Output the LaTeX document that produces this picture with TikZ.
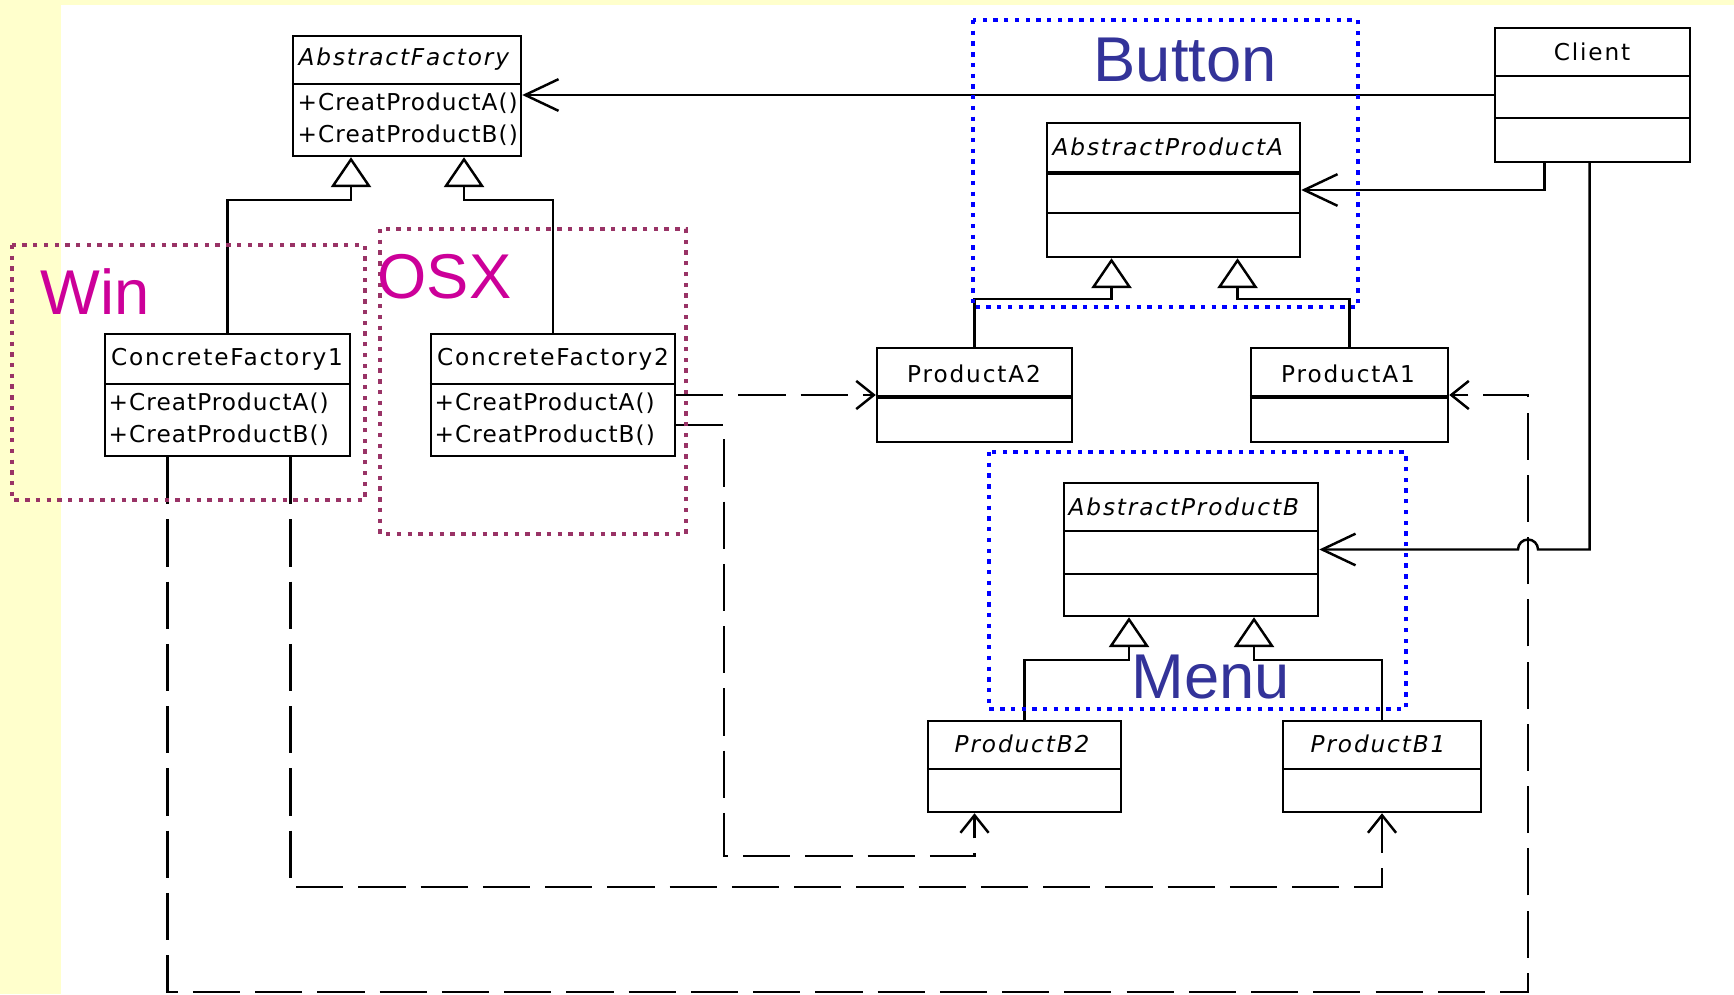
\documentclass[tikz,border=0pt]{standalone}
\usepackage{fontspec}
\setmainfont{DejaVu Sans}
\newfontfamily\umlfont{DejaVu Sans}[LetterSpace=8]
\newfontfamily\umlopfont{DejaVu Sans}[LetterSpace=4.5]
\newfontfamily\labelfont{Liberation Sans}
\usetikzlibrary{arrows.meta,calc,fit}

\definecolor{slidebg}{HTML}{FFFFCC}
\definecolor{groupmaroon}{HTML}{993366}
\definecolor{groupblue}{HTML}{0000FF}
\definecolor{labelmagenta}{HTML}{CC0099}
\definecolor{labelnavy}{HTML}{333399}

\tikzset{
  cls/.style={draw=black, line width=0.7pt, inner sep=0pt, fill=white},
  divider/.style={line width=0.7pt},
  thickdivider/.style={line width=1.4pt},
  umltext/.style={inner sep=0pt, font=\umlfont\fontsize{6.6}{8}\selectfont},
  umlitalic/.style={inner sep=0pt, font=\umlfont\fontsize{6.6}{8}\selectfont\itshape},
  umlop/.style={inner sep=0pt, anchor=west, font=\umlopfont\fontsize{6.6}{8}\selectfont},
  inherit/.style={line width=0.7pt, -{Triangle[open, length=8.5pt, width=11.4pt]}},
  assoc/.style={line width=0.7pt, -{Straight Barb[length=9.5pt, width=9pt]}},
  depend/.style={line width=0.7pt, dash pattern=on 13.4pt off 4.3pt,
                 -{Straight Barb[length=5pt, width=8pt]}},
  groupwin/.style={draw=groupmaroon, line width=1.25pt, dash pattern=on 1.25pt off 1.8pt},
  groupui/.style={draw=groupblue, line width=1.25pt, dash pattern=on 1.25pt off 1.8pt},
  grouplabel/.style={inner sep=0pt, anchor=base west, font=\labelfont\fontsize{18}{20}\selectfont},
}

\begin{document}
\begin{tikzpicture}[x=0.01cm, y=-0.01cm]
  % page background
  \useasboundingbox (0,0) rectangle (1734,994);
  \fill[slidebg] (0,0) rectangle (1734,994);
  \fill[white] (61,5) rectangle (1734,994);

  % ---------- classes ----------
  % AbstractFactory
  \node[cls, fit={(293,36) (521,156)}] (af) {};
  \draw[divider] (af.west |- 0,84) -- (af.east |- 0,84);
  \node[umlitalic, anchor=west] (afname) at (298,59) {AbstractFactory};
  \node[umlop] (afm1) at (297,103) {+CreatProductA()};
  \node[umlop] (afm2) at (297,135) {+CreatProductB()};

  % ConcreteFactory1
  \node[cls, fit={(105,334) (350,456)}] (cf1) {};
  \draw[divider] (cf1.west |- 0,384) -- (cf1.east |- 0,384);
  \node[umltext] (cf1name) at (227,359) {ConcreteFactory1};
  \node[umlop] (cf1m1) at (108,403) {+CreatProductA()};
  \node[umlop] (cf1m2) at (108,435) {+CreatProductB()};

  % ConcreteFactory2
  \node[cls, fit={(431,334) (675,456)}] (cf2) {};
  \draw[divider] (cf2.west |- 0,384) -- (cf2.east |- 0,384);
  \node[umltext] (cf2name) at (553,359) {ConcreteFactory2};
  \node[umlop] (cf2m1) at (434,403) {+CreatProductA()};
  \node[umlop] (cf2m2) at (434,435) {+CreatProductB()};

  % Client
  \node[cls, fit={(1495,28) (1690,162)}] (client) {};
  \draw[divider] (client.west |- 0,76) -- (client.east |- 0,76);
  \draw[divider] (client.west |- 0,118) -- (client.east |- 0,118);
  \node[umltext] (clientname) at (1592,52) {Client};

  % AbstractProductA
  \node[cls, fit={(1047,123) (1300,257)}] (apa) {};
  \draw[thickdivider] (apa.west |- 0,173) -- (apa.east |- 0,173);
  \draw[divider] (apa.west |- 0,213) -- (apa.east |- 0,213);
  \node[umlitalic, anchor=west] (apaname) at (1052,147) {AbstractProductA};

  % ProductA2 / ProductA1
  \node[cls, fit={(877,348) (1072,442)}] (pa2) {};
  \draw[thickdivider] (pa2.west |- 0,397) -- (pa2.east |- 0,397);
  \node[umltext] (pa2name) at (974,374) {ProductA2};
  \node[cls, fit={(1251,348) (1448,442)}] (pa1) {};
  \draw[thickdivider] (pa1.west |- 0,397) -- (pa1.east |- 0,397);
  \node[umltext] (pa1name) at (1348,374) {ProductA1};

  % AbstractProductB
  \node[cls, fit={(1064,483) (1318,616)}] (apb) {};
  \draw[divider] (apb.west |- 0,531) -- (apb.east |- 0,531);
  \draw[divider] (apb.west |- 0,574) -- (apb.east |- 0,574);
  \node[umlitalic, anchor=west] (apbname) at (1068,507) {AbstractProductB};

  % ProductB2 / ProductB1
  \node[cls, fit={(928,721) (1121,812)}] (pb2) {};
  \draw[divider] (pb2.west |- 0,769) -- (pb2.east |- 0,769);
  \node[umlitalic] (pb2name) at (1022,744) {ProductB2};
  \node[cls, fit={(1283,721) (1481,812)}] (pb1) {};
  \draw[divider] (pb1.west |- 0,769) -- (pb1.east |- 0,769);
  \node[umlitalic] (pb1name) at (1378,744) {ProductB1};

  % ---------- generalisations ----------
  \draw[inherit] (cf1.north) |- ($(af.south)+(-56,43)$) -- ($(af.south)+(-56,0)$);
  \draw[inherit] (cf2.north) |- ($(af.south)+(57,43)$) -- ($(af.south)+(57,0)$);
  \draw[inherit] (pa2.north) |- ($(apa.south)+(-62,41)$) -- ($(apa.south)+(-62,0)$);
  \draw[inherit] (pa1.north) |- ($(apa.south)+(64,41)$) -- ($(apa.south)+(64,0)$);
  \draw[inherit] (pb2.north) |- ($(apb.south)+(-62,43)$) -- ($(apb.south)+(-62,0)$);
  \draw[inherit] (pb1.north) |- ($(apb.south)+(63,43)$) -- ($(apb.south)+(63,0)$);

  % ---------- dependencies of the concrete factories ----------
  \coordinate (loopcorner) at (1528,992);
  \coordinate (bturn) at (724,856);
  \draw[depend] (cf2.east) -- (pa2.west);
  \draw[depend] ($(cf2.east)+(0,30)$) -| (bturn) -| ($(pb2.south)+(-50,0)$);
  \draw[depend] ($(cf1.south)+(63,0)$) |- ($(pb1.south)+(0,74)$) -- (pb1.south);
  \draw[depend] ($(cf1.south)+(-60,0)$) |- (loopcorner) |- (pa1.east);

  % ---------- client associations ----------
  \coordinate (hop) at (loopcorner |- apb.east);
  \draw[assoc] (client.west) -- (client.west -| af.east);
  \draw[assoc] ($(client.south)+(-48,0)$) |- (apa.east);
  \draw[assoc] ($(client.south)+(-3,0)$) |- ($(hop)+(10,0)$)
     arc[start angle=0, end angle=180, radius=1mm] -- (apb.east);

  % ---------- platform / widget groups ----------
  \draw[groupwin] (12,245) rectangle (365,500);
  \draw[groupwin] (380,229) rectangle (686,534);
  \draw[groupui] (973,20) rectangle (1358,307);
  \draw[groupui] (989,452) rectangle (1406,709);

  \node[grouplabel, text=labelmagenta] (winlabel) at (40,314) {Win};
  \node[grouplabel, text=labelmagenta] (osxlabel) at (377,298) {OSX};
  \node[grouplabel, text=labelnavy] (buttonlabel) at (1093,82) {Button};
  \node[grouplabel, text=labelnavy] (menulabel) at (1131,698) {Menu};
\end{tikzpicture}
\end{document}
